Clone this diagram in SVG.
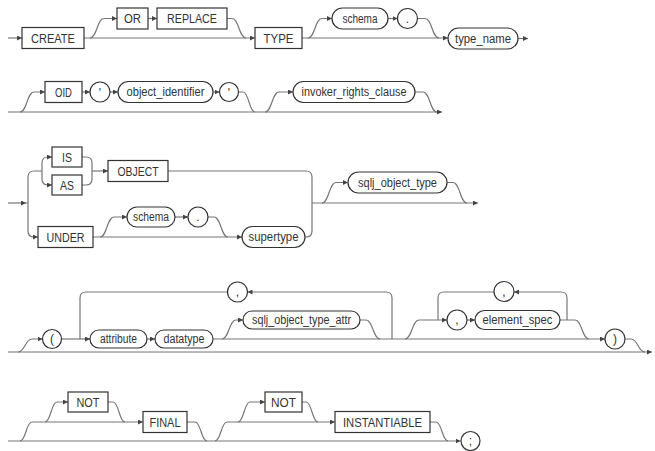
<svg xmlns="http://www.w3.org/2000/svg" width="655" height="451" viewBox="0 0 655 451">
<defs>
<marker id="ar" viewBox="0 0 6 6" refX="6" refY="3" markerWidth="5" markerHeight="5" orient="auto" markerUnits="userSpaceOnUse"><path d="M0,0 L6,3 L0,6 z" fill="#444"/></marker>
<style>
.b{fill:#fff;stroke:#333;stroke-width:1.2}
.c{fill:none;stroke:#777;stroke-width:1.2}
.a{marker-end:url(#ar)}
.t{font-family:"Liberation Sans Narrow","Liberation Sans",Arial,sans-serif;font-size:12px;fill:#333;text-anchor:middle}
</style>
</defs>
<rect width="655" height="451" fill="#fff"/>
<g id="connectors">
<!-- row 1 -->
<path class="c a" d="M8,38 L22,38"/>
<path class="c a" d="M84,38 L255,38"/>
<path class="c a" d="M90,38 C97,38 97,18.5 104,18.5 L117,18.5"/>
<path class="c a" d="M148,18.5 L157,18.5"/>
<path class="c" d="M227,18.5 L232,18.5 C239,18.5 239,38 246,38"/>
<path class="c a" d="M302,38 L448,38"/>
<path class="c a" d="M308,38 C315,38 315,18.5 322,18.5 L332,18.5"/>
<path class="c a" d="M388,18.5 L397.5,18.5"/>
<path class="c" d="M417.5,18.5 L425,18.5 C432,18.5 432,38 439,38"/>
<path class="c a" d="M518,38.5 L528,38.5"/>
<!-- row 2 -->
<path class="c a" d="M8,112 L442,112"/>
<path class="c a" d="M20,112 C27,112 27,92 34,92 L45,92"/>
<path class="c a" d="M82,92 L90,92"/>
<path class="c a" d="M110,92 L118,92"/>
<path class="c a" d="M213,92 L219.5,92"/>
<path class="c" d="M238.5,92 L243,92 C249,92 249,112 255,112"/>
<path class="c a" d="M265,112 C272,112 272,92 279,92 L293,92"/>
<path class="c" d="M415,92 L423,92 C430,92 430,112 437,112"/>
<!-- row 3 -->
<path class="c a" d="M8,203 L26,203"/>
<path class="c" d="M26,203 L28,203 M28,203 L28,177 Q28,171 34,171 L42,171"/>
<path class="c a" d="M42,171 L42,163 Q42,157 48,157 L52,157"/>
<path class="c a" d="M42,171 L42,179 Q42,185 48,185 L52,185"/>
<path class="c" d="M82,157 L86,157 Q92,157 92,163 L92,179 Q92,185 86,185 L82,185"/>
<path class="c a" d="M92,171 L108,171"/>
<path class="c" d="M168,171 L306,171 Q312,171 312,177 L312,231 Q312,237 306,237 L305,237"/>
<path class="c a" d="M28,203 L28,231 Q28,237 34,237 L38,237"/>
<path class="c a" d="M93,237 L242,237"/>
<path class="c a" d="M100,237 C107,237 107,217 114,217 L127,217"/>
<path class="c a" d="M175,217 L188,217"/>
<path class="c" d="M208,217 L214,217 C221,217 221,237 228,237"/>
<path class="c a" d="M312,203 L478,203"/>
<path class="c a" d="M322,203 C329,203 329,182.5 336,182.5 L348,182.5"/>
<path class="c" d="M447,182.5 L453,182.5 C460,182.5 460,203 467,203"/>
<!-- row 4 -->
<path class="c a" d="M8,352 L652,352"/>
<path class="c a" d="M18,352 C25,352 25,339 32,339 L42.5,339"/>
<path class="c a" d="M61.5,339 L90,339"/>
<path class="c a" d="M392,339 L392,298 Q392,292 386,292 L247.5,292"/>
<path class="c" d="M227.5,292 L86,292 Q80,292 80,298 L80,339"/>
<path class="c a" d="M147,339 L155,339"/>
<path class="c a" d="M213,339 L605,339"/>
<path class="c a" d="M222,339 C229,339 229,320 236,320 L243,320"/>
<path class="c" d="M360,320 L366,320 C373,320 373,339 380,339"/>
<path class="c a" d="M405,339 C412,339 412,320 419,320 L447,320"/>
<path class="c a" d="M567,320 L567,298 Q567,292 561,292 L514,292"/>
<path class="c" d="M494,292 L444,292 Q438,292 438,298 L438,320"/>
<path class="c a" d="M467,320 L475,320"/>
<path class="c" d="M560,320 L575,320 C582,320 582,339 589,339"/>
<path class="c" d="M625,339 L631,339 C638,339 638,352 645,352"/>
<!-- row 5 -->
<path class="c a" d="M8,441 L460.5,441"/>
<path class="c a" d="M20,441 C26,441 26,422 32,422 L143,422"/>
<path class="c a" d="M45,422 C51,422 51,402 57,402 L68,402"/>
<path class="c" d="M108,402 L113,402 C119,402 119,422 125,422"/>
<path class="c" d="M187,422 L195,422 C201,422 201,441 207,441"/>
<path class="c a" d="M215,441 C221,441 221,422 227,422 L335,422"/>
<path class="c a" d="M238,422 C244,422 244,402 250,402 L265,402"/>
<path class="c" d="M302,402 L306,402 C312,402 312,422 318,422"/>
<path class="c" d="M430,422 L436,422 C442,422 442,441 448,441"/>
</g>
<!-- row 1 nodes -->
<g id="create"><rect class="b" x="22" y="27.5" width="62" height="21"/><text class="t" x="53" y="42.5" textLength="44" lengthAdjust="spacingAndGlyphs">CREATE</text></g>
<g id="or"><rect class="b" x="117" y="8" width="31" height="21"/><text class="t" x="132.5" y="23" textLength="17" lengthAdjust="spacingAndGlyphs">OR</text></g>
<g id="replace"><rect class="b" x="157" y="8" width="70" height="21"/><text class="t" x="192" y="23" textLength="50" lengthAdjust="spacingAndGlyphs">REPLACE</text></g>
<g id="type"><rect class="b" x="255" y="27.5" width="47" height="21"/><text class="t" x="278.5" y="42.5" textLength="30" lengthAdjust="spacingAndGlyphs">TYPE</text></g>
<g id="schema1"><rect class="b" x="332" y="8" width="56" height="21" rx="10.5"/><text class="t" x="360" y="22.5" textLength="35" lengthAdjust="spacingAndGlyphs">schema</text></g>
<g id="dot1"><circle class="b" cx="407.5" cy="18.5" r="10"/><text class="t" x="407.5" y="22.5">.</text></g>
<g id="type_name"><rect class="b" x="448" y="28" width="70" height="21" rx="10.5"/><text class="t" x="483" y="42.5" textLength="56" lengthAdjust="spacingAndGlyphs">type_name</text></g>
<!-- row 2 nodes -->
<g id="oid"><rect class="b" x="45" y="81.5" width="37" height="21"/><text class="t" x="63.5" y="96.5" textLength="17" lengthAdjust="spacingAndGlyphs">OID</text></g>
<g id="quote1"><circle class="b" cx="100" cy="92" r="10"/><text class="t" x="100" y="97">'</text></g>
<g id="object_identifier"><rect class="b" x="118" y="81.5" width="95" height="21" rx="10.5"/><text class="t" x="165.5" y="96" textLength="78" lengthAdjust="spacingAndGlyphs">object_identifier</text></g>
<g id="quote2"><circle class="b" cx="229" cy="92" r="9.5"/><text class="t" x="229" y="97">'</text></g>
<g id="invoker_rights_clause"><rect class="b" x="293" y="81.5" width="122" height="21" rx="10.5"/><text class="t" x="354" y="96" textLength="105" lengthAdjust="spacingAndGlyphs">invoker_rights_clause</text></g>
<!-- row 3 nodes -->
<g id="is"><rect class="b" x="52" y="147" width="30" height="20"/><text class="t" x="67" y="161.5" textLength="10" lengthAdjust="spacingAndGlyphs">IS</text></g>
<g id="as"><rect class="b" x="52" y="175" width="30" height="20"/><text class="t" x="67" y="189.5" textLength="14" lengthAdjust="spacingAndGlyphs">AS</text></g>
<g id="object"><rect class="b" x="108" y="160.5" width="60" height="21"/><text class="t" x="138" y="175.5" textLength="41" lengthAdjust="spacingAndGlyphs">OBJECT</text></g>
<g id="under"><rect class="b" x="38" y="226.5" width="55" height="21"/><text class="t" x="65.5" y="241.5" textLength="38" lengthAdjust="spacingAndGlyphs">UNDER</text></g>
<g id="schema2"><rect class="b" x="127" y="207" width="48" height="20" rx="10"/><text class="t" x="151" y="221" textLength="36" lengthAdjust="spacingAndGlyphs">schema</text></g>
<g id="dot2"><circle class="b" cx="198" cy="217" r="10"/><text class="t" x="198" y="221">.</text></g>
<g id="supertype"><rect class="b" x="242" y="226.5" width="63" height="21" rx="10.5"/><text class="t" x="273.5" y="241" textLength="50" lengthAdjust="spacingAndGlyphs">supertype</text></g>
<g id="sqlj_object_type"><rect class="b" x="348" y="172" width="99" height="21" rx="10.5"/><text class="t" x="397.5" y="186.5" textLength="79" lengthAdjust="spacingAndGlyphs">sqlj_object_type</text></g>
<!-- row 4 nodes -->
<g id="lparen"><circle class="b" cx="52" cy="339" r="9.5"/><text class="t" x="52" y="343">(</text></g>
<g id="comma1"><circle class="b" cx="237.5" cy="292" r="10"/><text class="t" x="237.5" y="296">,</text></g>
<g id="attribute"><rect class="b" x="90" y="330" width="57" height="18" rx="9"/><text class="t" x="118.5" y="343" textLength="37" lengthAdjust="spacingAndGlyphs">attribute</text></g>
<g id="datatype"><rect class="b" x="155" y="330" width="58" height="18" rx="9"/><text class="t" x="184" y="343" textLength="41" lengthAdjust="spacingAndGlyphs">datatype</text></g>
<g id="sqlj_object_type_attr"><rect class="b" x="243" y="311" width="117" height="18" rx="9"/><text class="t" x="301.5" y="324" textLength="99" lengthAdjust="spacingAndGlyphs">sqlj_object_type_attr</text></g>
<g id="comma2"><circle class="b" cx="457" cy="320" r="10"/><text class="t" x="457" y="324">,</text></g>
<g id="element_spec"><rect class="b" x="475" y="310.5" width="85" height="19" rx="9.5"/><text class="t" x="517.5" y="324" textLength="70" lengthAdjust="spacingAndGlyphs">element_spec</text></g>
<g id="comma3"><circle class="b" cx="504" cy="291.5" r="10"/><text class="t" x="504" y="295.5">,</text></g>
<g id="rparen"><circle class="b" cx="615" cy="339" r="10"/><text class="t" x="615" y="343">)</text></g>
<!-- row 5 nodes -->
<g id="not1"><rect class="b" x="68" y="392" width="40" height="20"/><text class="t" x="88" y="406.5" textLength="23" lengthAdjust="spacingAndGlyphs">NOT</text></g>
<g id="final"><rect class="b" x="143" y="411.5" width="44" height="21"/><text class="t" x="165" y="426.5" textLength="31" lengthAdjust="spacingAndGlyphs">FINAL</text></g>
<g id="not2"><rect class="b" x="265" y="392" width="37" height="20"/><text class="t" x="283.5" y="406.5" textLength="25" lengthAdjust="spacingAndGlyphs">NOT</text></g>
<g id="instantiable"><rect class="b" x="335" y="411.5" width="95" height="21"/><text class="t" x="382.5" y="426.5" textLength="79" lengthAdjust="spacingAndGlyphs">INSTANTIABLE</text></g>
<g id="semicolon"><circle class="b" cx="470.5" cy="441" r="9.5"/><text class="t" x="470.5" y="445">;</text></g>
</svg>
